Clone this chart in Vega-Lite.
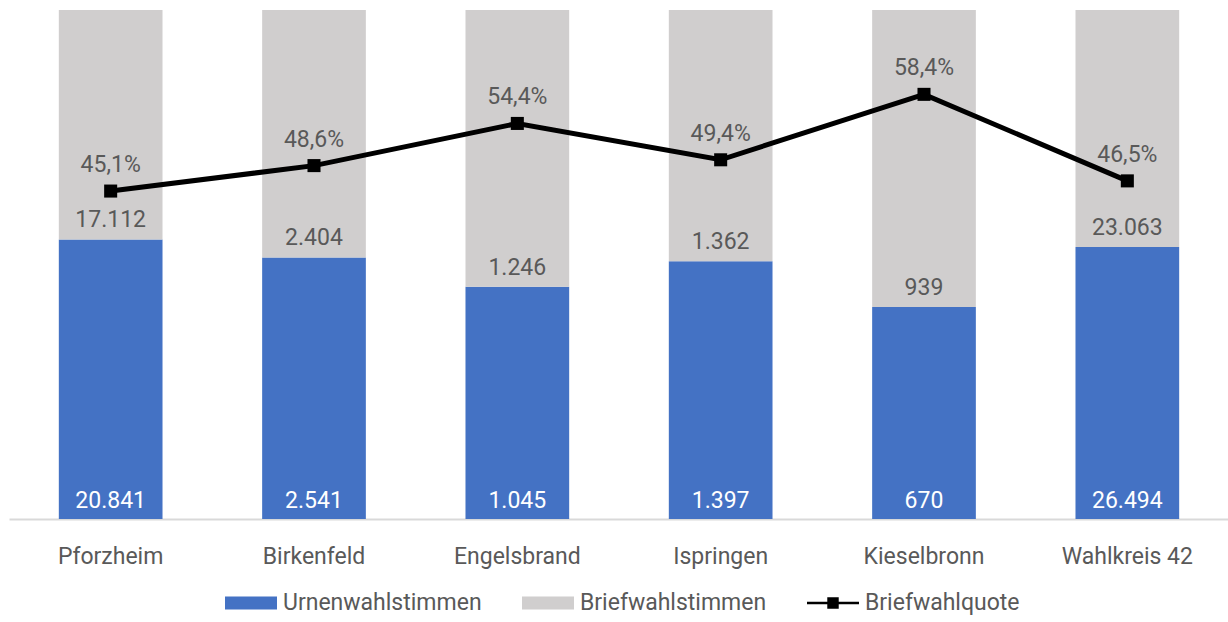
{
  "$schema": "https://vega.github.io/schema/vega-lite/v6.json",
  "width": 1220,
  "height": 509,
  "autosize": {"type": "none"},
  "padding": {"left": 9, "top": 10, "right": 0, "bottom": 103},
  "background": "white",
  "datasets": {
    "stimmen": [
      {"Ort": "Pforzheim", "Art": "Urnenwahlstimmen", "Stimmen": 20841},
      {"Ort": "Pforzheim", "Art": "Briefwahlstimmen", "Stimmen": 17112},
      {"Ort": "Birkenfeld", "Art": "Urnenwahlstimmen", "Stimmen": 2541},
      {"Ort": "Birkenfeld", "Art": "Briefwahlstimmen", "Stimmen": 2404},
      {"Ort": "Engelsbrand", "Art": "Urnenwahlstimmen", "Stimmen": 1045},
      {"Ort": "Engelsbrand", "Art": "Briefwahlstimmen", "Stimmen": 1246},
      {"Ort": "Ispringen", "Art": "Urnenwahlstimmen", "Stimmen": 1397},
      {"Ort": "Ispringen", "Art": "Briefwahlstimmen", "Stimmen": 1362},
      {"Ort": "Kieselbronn", "Art": "Urnenwahlstimmen", "Stimmen": 670},
      {"Ort": "Kieselbronn", "Art": "Briefwahlstimmen", "Stimmen": 939},
      {"Ort": "Wahlkreis 42", "Art": "Urnenwahlstimmen", "Stimmen": 26494},
      {"Ort": "Wahlkreis 42", "Art": "Briefwahlstimmen", "Stimmen": 23063}
    ],
    "quote": [
      {"Ort": "Pforzheim", "Quote": 0.451},
      {"Ort": "Birkenfeld", "Quote": 0.486},
      {"Ort": "Engelsbrand", "Quote": 0.544},
      {"Ort": "Ispringen", "Quote": 0.494},
      {"Ort": "Kieselbronn", "Quote": 0.584},
      {"Ort": "Wahlkreis 42", "Quote": 0.465}
    ]
  },
  "layer": [
    {
      "data": {"name": "stimmen"},
      "transform": [
        {"stack": "Stimmen", "groupby": ["Ort"], "sort": [{"field": "Art", "order": "descending"}], "offset": "normalize", "as": ["y0", "y1"]}
      ],
      "layer": [
        {
          "mark": {"type": "bar"},
          "encoding": {
            "y": {"field": "y0", "type": "quantitative", "scale": {"domain": [0, 1]}, "axis": null},
            "y2": {"field": "y1"},
            "color": {
              "field": "Art", "type": "nominal",
              "scale": {"domain": ["Urnenwahlstimmen", "Briefwahlstimmen", "Briefwahlquote"], "range": ["#4472C4", "#D0CECE", "#000000"]},
              "legend": {
                "title": null, "orient": "none", "direction": "horizontal", "legendX": 216, "legendY": 567,
                "symbolSize": 2704, "labelOffset": 6, "columnPadding": 40, "labelLimit": 400, "labelFontSize": 23, "labelFont": "Roboto", "labelColor": "#595959", "padding": 0,
                "encode": {
                  "symbols": {
                    "update": {
                      "shape": {"signal": "datum.value === 'Briefwahlquote' ? 'M-1,-0.045 L1,-0.045 L1,0.045 L-1,0.045 Z M-0.22,-0.22 L0.22,-0.22 L0.22,0.22 L-0.22,0.22 Z' : 'M-1,-0.25 L1,-0.25 L1,0.25 L-1,0.25 Z'"},
                      "fill": {"signal": "datum.value === 'Briefwahlquote' ? '#000000' : datum.value === 'Urnenwahlstimmen' ? '#4472C4' : '#D0CECE'"},
                      "strokeWidth": {"value": 0},
                      "opacity": {"value": 1}
                    }
                  }
                }
              }
            }
          }
        },
        {
          "transform": [{"filter": "datum.Art === 'Urnenwahlstimmen'"}],
          "mark": {"type": "text", "baseline": "alphabetic", "dy": -11, "color": "white", "fontSize": 23, "font": "Roboto"},
          "encoding": {
            "y": {"field": "y0", "type": "quantitative", "scale": {"domain": [0, 1]}, "axis": null},
            "text": {"field": "Stimmen", "type": "quantitative", "format": ",.0f"}
          }
        },
        {
          "transform": [{"filter": "datum.Art === 'Briefwahlstimmen'"}],
          "mark": {"type": "text", "baseline": "alphabetic", "dy": -12, "color": "#595959", "fontSize": 23, "font": "Roboto"},
          "encoding": {
            "y": {"field": "y0", "type": "quantitative", "scale": {"domain": [0, 1]}, "axis": null},
            "text": {"field": "Stimmen", "type": "quantitative", "format": ",.0f"}
          }
        }
      ]
    },
    {
      "data": {"name": "quote"},
      "layer": [
        {
          "mark": {"type": "line", "strokeWidth": 5},
          "encoding": {
            "y": {"field": "Quote", "type": "quantitative", "scale": {"domain": [0, 0.7]}, "axis": null},
            "color": {"datum": "Briefwahlquote", "type": "nominal"}
          }
        },
        {
          "mark": {"type": "point", "shape": "square", "filled": true, "size": 170, "opacity": 1},
          "encoding": {
            "y": {"field": "Quote", "type": "quantitative", "scale": {"domain": [0, 0.7]}, "axis": null},
            "color": {"datum": "Briefwahlquote", "type": "nominal"}
          }
        },
        {
          "mark": {"type": "text", "baseline": "alphabetic", "dy": -19, "color": "#595959", "fontSize": 23, "font": "Roboto"},
          "encoding": {
            "y": {"field": "Quote", "type": "quantitative", "scale": {"domain": [0, 0.7]}, "axis": null},
            "text": {"field": "Quote", "type": "quantitative", "format": ".1%"}
          }
        }
      ]
    }
  ],
  "resolve": {"scale": {"y": "independent"}},
  "encoding": {
    "x": {
      "field": "Ort", "type": "nominal", "sort": null, "title": null,
      "scale": {"paddingInner": 0.49, "paddingOuter": 0.245},
      "axis": {"labelAngle": 0, "ticks": false, "tickSize": 0, "labelPadding": 44, "labelBaseline": "alphabetic", "domainColor": "#D9D9D9", "domainWidth": 2, "labelFontSize": 23, "labelFont": "Roboto", "labelColor": "#595959"}
    }
  },
  "config": {
    "view": {"stroke": null},
    "locale": {"number": {"decimal": ",", "thousands": ".", "grouping": [3], "currency": ["", " €"]}}
  }
}
